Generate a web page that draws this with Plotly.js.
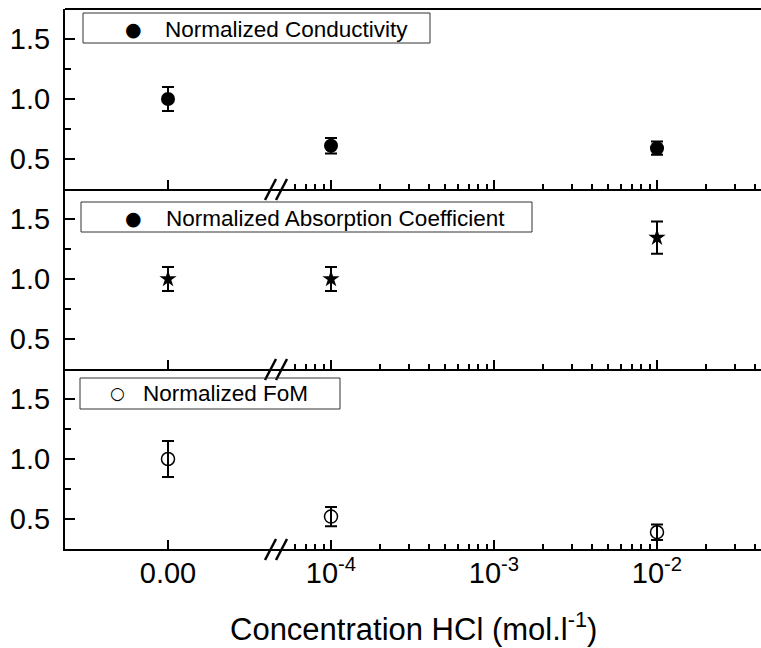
<!DOCTYPE html>
<html>
<head>
<meta charset="utf-8">
<script src="https://cdn.plot.ly/plotly-3.0.1.min.js"></script>
<style>html,body{margin:0;padding:0;background:#fff;overflow:hidden}</style>
</head>
<body>
<div id="chart" style="width:761px;height:648px"></div>
<script>
// ---- data ----
const concentrations = [0, 1e-4, 1e-2];
const conductivity = [1.00, 0.61, 0.59];
const conductivityErr = [0.10, 0.065, 0.055];
const absorption = [1.00, 1.00, 1.345];
const absorptionErr = [0.10, 0.10, 0.135];
const fom = [1.00, 0.52, 0.39];
const fomErr = [0.15, 0.08, 0.065];
const seriesNames = ["Normalized Conductivity", "Normalized Absorption Coefficient", "Normalized FoM"];
const yTickVals = [0.5, 1.0, 1.5];
const yTickText = ["0.5", "1.0", "1.5"];
const yMinorVals = [0.75, 1.25];
const linTickVals = [0];
const linTickText = ["0.00"];
const logTickVals = [1e-4, 1e-3, 1e-2];
const logTickText = ["10<sup>-4</sup>", "10<sup>-3</sup>", "10<sup>-2</sup>"];
const logMinorVals = [6e-5,7e-5,8e-5,9e-5,2e-4,3e-4,4e-4,5e-4,6e-4,7e-4,8e-4,9e-4,2e-3,3e-3,4e-3,5e-3,6e-3,7e-3,8e-3,9e-3,2e-2,3e-2,4e-2];
const xTitle = "Concentration HCl (mol.l<sup>-1</sup>)";

// ---- layout geometry (pixels) ----
const W = 761, H = 648;
const L = 65, R = 761, T = 9, B = 549;
const brk = 276;
const px = v => (v - L) / (R - L);
const py = v => (B - v) / (B - T);
const dBreak = px(brk);
const FONT = "Liberation Sans, Arial, sans-serif";
const TICK = 29;

const linRange = [-(168 - L) / (brk - L), (brk - 168) / (brk - L)];
const logStart = -4 - (331 - brk) / 163;
const logRange = [logStart, logStart + (R - brk) / 163];

function splitLin(arr) { return arr.slice(0, 1); }
function splitLog(arr) { return arr.slice(1); }

const panels = [
  {vals: fom, err: fomErr, marker: {symbol: "circle-open", size: 13, color: "black", line: {width: 1.5, color: "black"}}, xl: "x", xg: "x2", y: "y"},
  {vals: absorption, err: absorptionErr, marker: {symbol: "star", size: 13, color: "black", line: {width: 0}}, xl: "x3", xg: "x4", y: "y2"},
  {vals: conductivity, err: conductivityErr, marker: {symbol: "circle", size: 14, color: "black", line: {width: 0}}, xl: "x5", xg: "x6", y: "y3"}
];

const traces = [];
panels.forEach(p => {
  const eb = (arr) => ({type: "data", array: arr, visible: true, color: "black", thickness: 2, width: 6});
  traces.push({x: splitLin(concentrations), y: splitLin(p.vals), error_y: eb(splitLin(p.err)),
    xaxis: p.xl, yaxis: p.y, type: "scatter", mode: "markers", marker: p.marker, showlegend: false, cliponaxis: false});
  traces.push({x: splitLog(concentrations), y: splitLog(p.vals), error_y: eb(splitLog(p.err)),
    xaxis: p.xg, yaxis: p.y, type: "scatter", mode: "markers", marker: p.marker, showlegend: false, cliponaxis: false});
});

function linAxis(anchor, showLabels) {
  return {type: "linear", domain: [0, dBreak], anchor: anchor, range: linRange,
    tickmode: "array", tickvals: linTickVals, ticktext: linTickText, showticklabels: showLabels,
    ticks: "inside", ticklen: 9, tickwidth: 2, tickcolor: "black",
    showline: true, linewidth: 2, linecolor: "black", showgrid: false, zeroline: false,
    tickfont: {family: FONT, size: TICK, color: "black"}, ticklabelstandoff: -3, fixedrange: true};
}
function logAxis(anchor, showLabels) {
  return {type: "log", domain: [dBreak, 1], anchor: anchor, range: logRange,
    tickmode: "array", tickvals: logTickVals, ticktext: logTickText, showticklabels: showLabels,
    ticks: "inside", ticklen: 9, tickwidth: 2, tickcolor: "black",
    minor: {tickmode: "array", tickvals: logMinorVals, ticks: "inside", ticklen: 5, tickwidth: 2, tickcolor: "black", showgrid: false},
    showline: true, linewidth: 2, linecolor: "black", showgrid: false, zeroline: false,
    tickfont: {family: FONT, size: TICK, color: "black"}, ticklabelstandoff: -3, fixedrange: true};
}
function yAxis(domain, anchor) {
  return {domain: domain, anchor: anchor, range: [0.25, 1.75],
    tickmode: "array", tickvals: yTickVals, ticktext: yTickText,
    ticks: "inside", ticklen: 10, tickwidth: 2, tickcolor: "black",
    minor: {tickmode: "array", tickvals: yMinorVals, ticks: "inside", ticklen: 6, tickwidth: 2, tickcolor: "black", showgrid: false},
    showline: true, linewidth: 2, linecolor: "black", showgrid: false, zeroline: false,
    tickfont: {family: FONT, size: TICK, color: "black"}, ticklabelstandoff: 7, fixedrange: true};
}

const shapes = [];
// top frame line
shapes.push({type: "line", xref: "paper", yref: "paper", x0: 0, x1: 1, y0: 1, y1: 1, line: {color: "black", width: 2}});
// axis-break slashes on each panel's bottom line
[189, 369, 549].forEach(yb => {
  [[265, 276], [276, 287]].forEach(([a, b]) => {
    shapes.push({type: "line", xref: "paper", yref: "paper", x0: px(a), x1: px(b), y0: py(yb + 11), y1: py(yb - 10),
      line: {color: "black", width: 2.5}});
  });
});
// legend boxes
const boxes = [[83, 430, 13, 43], [81, 532, 202, 232], [80, 340, 378, 409]];
boxes.forEach(([x0, x1, y0, y1]) => {
  shapes.push({type: "rect", xref: "paper", yref: "paper", x0: px(x0), x1: px(x1), y0: py(y1), y1: py(y0),
    line: {color: "#333", width: 1}, fillcolor: "rgba(0,0,0,0)"});
});

const annotations = [];
const legendItems = [
  {glyph: "●", gx: 133, tx: 163, y: 29, text: seriesNames[0]},
  {glyph: "●", gx: 133, tx: 164, y: 218, text: seriesNames[1]},
  {glyph: "○", gx: 117, tx: 141, y: 393, text: seriesNames[2]}
];
legendItems.forEach(it => {
  annotations.push({xref: "paper", yref: "paper", x: px(it.gx), y: py(it.y), text: it.glyph, showarrow: false,
    xanchor: "center", yanchor: "middle", font: {family: "DejaVu Sans, sans-serif", size: it.glyph === "○" ? 17 : 19, color: "black"}});
  annotations.push({xref: "paper", yref: "paper", x: px(it.tx), y: py(it.y), text: it.text, showarrow: false,
    xanchor: "left", yanchor: "middle", font: {family: FONT, size: 22.5, color: "black"}});
});
annotations.push({xref: "paper", yref: "paper", x: px(414), y: py(627), text: xTitle, showarrow: false,
  xanchor: "center", yanchor: "middle", font: {family: FONT, size: 31, color: "black"}});

const layout = {
  width: W, height: H, autosize: false,
  margin: {l: L, r: W - R, t: T, b: H - B, pad: 0},
  paper_bgcolor: "white", plot_bgcolor: "white",
  showlegend: false,
  font: {family: FONT, color: "black"},
  xaxis: linAxis("y", true), xaxis2: logAxis("y", true),
  xaxis3: linAxis("y2", false), xaxis4: logAxis("y2", false),
  xaxis5: linAxis("y3", false), xaxis6: logAxis("y3", false),
  yaxis: yAxis([0, 1/3], "x"), yaxis2: yAxis([1/3, 2/3], "x3"), yaxis3: yAxis([2/3, 1], "x5"),
  shapes: shapes, annotations: annotations
};

Plotly.newPlot("chart", traces, layout, {displayModeBar: false, staticPlot: true});
</script>
</body>
</html>
